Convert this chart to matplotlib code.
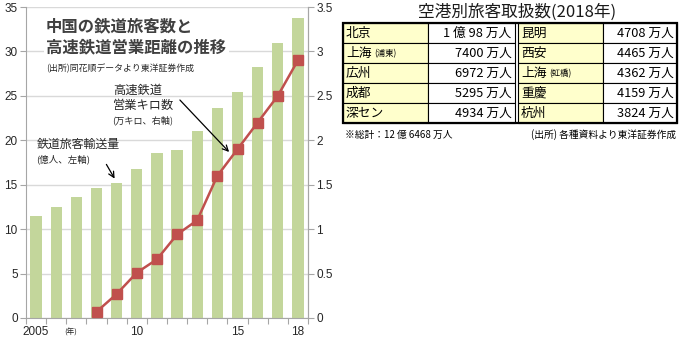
import matplotlib
matplotlib.use("Agg")
import matplotlib.pyplot as plt
from matplotlib.patches import Rectangle
import numpy as np

plt.rcParams['font.family'] = ['Noto Sans CJK JP', 'DejaVu Sans']

# ---- data ----
years = [2005, 2006, 2007, 2008, 2009, 2010, 2011, 2012, 2013, 2014, 2015, 2016, 2017, 2018]
passengers = [11.5, 12.5, 13.6, 14.6, 15.2, 16.8, 18.6, 18.9, 21.1, 23.6, 25.4, 28.2, 30.9, 33.8]
hsr_years = [2008, 2009, 2010, 2011, 2012, 2013, 2014, 2015, 2016, 2017, 2018]
hsr_km = [0.07, 0.27, 0.51, 0.66, 0.94, 1.10, 1.60, 1.90, 2.20, 2.50, 2.90]
xtick_labels = {2005: "2005", 2010: "10", 2015: "15", 2018: "18"}

table_title = "空港別旅客取扱数(2018年)"
left_names = ["北京", "上海", "広州", "成都", "深セン"]
left_notes = ["", "(浦東)", "", "", ""]
left_values = ["1 億 98 万人", "7400 万人", "6972 万人", "5295 万人", "4934 万人"]
right_names = ["昆明", "西安", "上海", "重慶", "杭州"]
right_notes = ["", "", "(虹橋)", "", ""]
right_values = ["4708 万人", "4465 万人", "4362 万人", "4159 万人", "3824 万人"]
total_note = "※総計：12 億 6468 万人"
table_source = "(出所) 各種資料より東洋証券作成"

BAR = "#c3d69b"
LINE = "#c0504d"
GRID = "#d9d9d9"
TXT = "#262626"
num_font = ['Liberation Sans', 'Noto Sans CJK JP']

fig = plt.figure(figsize=(6.8, 3.4), dpi=100)
W, H = 680, 340

# ---- chart ----
ax = fig.add_axes([26 / W, 22 / H, (308 - 26) / W, (318 - 7) / H])
x = np.arange(len(years))
ax.bar(x, passengers, width=0.56, color=BAR, zorder=2)
ax.set_xlim(-0.5, len(years) - 0.5)
ax.set_ylim(0, 35)
ax.set_yticks(np.arange(0, 36, 5))
ax.yaxis.grid(True, color=GRID, linewidth=1.0, zorder=0)
ax.set_axisbelow(True)
ax.spines["top"].set_visible(False)
for s in ["left", "bottom", "right"]:
    ax.spines[s].set_color("#a6a6a6")
ax.tick_params(axis="y", direction="out", length=4, color="#a6a6a6", labelsize=8.5,
               labelcolor=TXT, pad=2)
ax.set_xticks(np.arange(-0.5, len(years), 1.0), minor=False)
ax.set_xticklabels([])
ax.tick_params(axis="x", which="major", direction="out", length=4, color="#a6a6a6")
ax.set_xticks([years.index(y) for y in xtick_labels], minor=True)
ax.set_xticklabels(list(xtick_labels.values()), minor=True)
ax.tick_params(axis="x", which="minor", length=0, labelsize=8.5, labelcolor=TXT, pad=6)
for lab in ax.get_xticklabels(minor=True) + ax.get_yticklabels():
    lab.set_family(num_font)
ax.text(1.7, -1.2, "(年)", transform=ax.transData, fontsize=5.5, color=TXT,
        ha="center", va="top")

ax2 = ax.twinx()
ax2.set_ylim(0, 3.5)
ax2.set_yticks(np.arange(0, 3.51, 0.5))
ax2.set_yticklabels(["0", "0.5", "1", "1.5", "2", "2.5", "3", "3.5"])
ax2.tick_params(axis="y", direction="out", length=4, color="#a6a6a6", labelsize=8.5,
                labelcolor=TXT, pad=2)
for lab in ax2.get_yticklabels():
    lab.set_family(num_font)
for s in ["top", "left", "bottom"]:
    ax2.spines[s].set_visible(False)
ax2.spines["right"].set_color("#a6a6a6")
hx = [years.index(y) for y in hsr_years]
ax2.plot(hx, hsr_km, color=LINE, linewidth=1.8, marker="s", markersize=6.5,
         markerfacecolor=LINE, markeredgecolor=LINE, zorder=3)

# overlay axes in pixel coords for texts / table
ov = fig.add_axes([0, 0, 1, 1])
ov.set_xlim(0, W)
ov.set_ylim(H, 0)
ov.axis("off")

ov.text(46, 37, "中国の鉄道旅客数と\n高速鉄道営業距離の推移", fontsize=11.8, fontweight="bold",
        color="#404040", ha="left", va="center", linespacing=1.2,
        bbox=dict(boxstyle="square,pad=0.15", fc="white", ec="none"))
ov.text(46, 68, "(出所)同花順データより東洋証券作成", fontsize=6.4, color=TXT,
        ha="left", va="center", bbox=dict(boxstyle="square,pad=0.1", fc="white", ec="none"))

ov.text(113, 90, "高速鉄道", fontsize=8.8, color=TXT, ha="left", va="center")
ov.text(113, 106, "営業キロ数", fontsize=8.8, color=TXT, ha="left", va="center")
ov.text(112, 120, "(万キロ、右軸)", fontsize=6.6, color=TXT, ha="left", va="center")
ov.annotate("", xy=(231, 154), xytext=(178, 98),
            arrowprops=dict(arrowstyle="->", color="black", lw=0.9))

ov.text(37, 144, "鉄道旅客輸送量", fontsize=8.6, color=TXT, ha="left", va="center")
ov.text(36, 159, "(億人、左軸)", fontsize=6.8, color=TXT, ha="left", va="center")
ov.annotate("", xy=(116, 181), xytext=(105, 162),
            arrowprops=dict(arrowstyle="->", color="black", lw=0.9))

# ---- table ----
ov.text(517, 12, table_title, fontsize=12, color="#1a1a1a", ha="center", va="center")
top, rh = 23, 20
cols = [343, 428, 514.5, 518, 603, 677]
YEL = "#ffffcc"
nrows = len(left_names)
for i in range(nrows):
    y0 = top + i * rh
    ov.add_patch(Rectangle((cols[0], y0), cols[1] - cols[0], rh, fc=YEL, ec="black", lw=0.8))
    ov.add_patch(Rectangle((cols[1], y0), cols[2] - cols[1], rh, fc="white", ec="black", lw=0.8))
    ov.add_patch(Rectangle((cols[3], y0), cols[4] - cols[3], rh, fc=YEL, ec="black", lw=0.8))
    ov.add_patch(Rectangle((cols[4], y0), cols[5] - cols[4], rh, fc="white", ec="black", lw=0.8))
    yc = y0 + rh / 2 + 0.5
    ov.text(cols[0] + 3, yc, left_names[i], fontsize=9.2, color="black", ha="left", va="center")
    if left_notes[i]:
        ov.text(cols[0] + 31, yc + 0.5, left_notes[i], fontsize=6, color="black",
                ha="left", va="center")
    ov.text(cols[2] - 3, yc, left_values[i], fontsize=9.2, color="black", ha="right", va="center")
    ov.text(cols[3] + 3, yc, right_names[i], fontsize=9.2, color="black", ha="left", va="center")
    if right_notes[i]:
        ov.text(cols[3] + 31, yc + 0.5, right_notes[i], fontsize=6, color="black",
                ha="left", va="center")
    ov.text(cols[5] - 3, yc, right_values[i], fontsize=9.2, color="black", ha="right", va="center")
# outer thick border
ov.add_patch(Rectangle((cols[0], top), cols[5] - cols[0], rh * nrows, fc="none", ec="black", lw=1.6))
ov.text(cols[0] + 2, 135, total_note, fontsize=7, color="black", ha="left", va="center")
ov.text(cols[5] - 1, 135, table_source, fontsize=7, color="black", ha="right", va="center")

fig.savefig("out.png", dpi=100)
